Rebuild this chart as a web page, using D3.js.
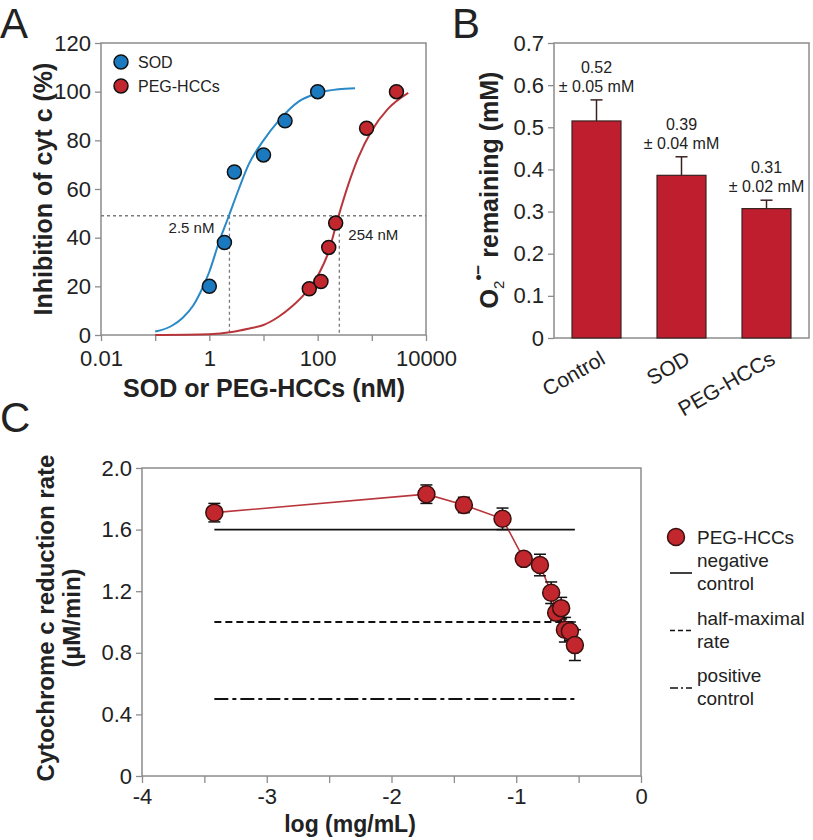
<!DOCTYPE html>
<html><head><meta charset="utf-8">
<script src="https://cdn.jsdelivr.net/npm/d3@7"></script>
<style>
body{margin:0;background:#fff}
svg{display:block}
text{font-family:"Liberation Sans",Arial,Helvetica,sans-serif;fill:#222}
</style>
</head><body>
<svg id="chart" width="813" height="840"></svg>
<script>
// ---------- Panel A data ----------
const sodConc  = [1, 1.9, 2.9, 10, 25, 100];
const sodInhib = [20, 38, 67, 74, 88, 100];
const pegConc  = [70, 115, 160, 215, 800, 2850];
const pegInhib = [19, 22, 36, 46, 85, 100];
const sodFitConc  = [0.1, 0.2, 0.32, 0.5, 0.7, 1, 1.5, 2.3, 3.5, 5.3, 10, 19, 45, 96, 240, 490];
const sodFitInhib = [1.4, 3.7, 7, 12, 18, 26, 38, 49, 60, 70, 80, 88, 96, 99.3, 101, 101.4];
const pegFitConc  = [0.1, 1, 2.6, 5.3, 10, 19, 33, 58, 104, 158, 241, 370, 564, 1000, 2000, 4700];
const pegFitInhib = [0, 0.3, 1.2, 2.6, 4.1, 7.5, 11.6, 17, 25, 34, 48.6, 62, 73, 84, 93, 99.5];
const halfLevel = 49;
const ic50Pos = [2.35, 251];
const ic50Labels = ["2.5 nM", "254 nM"];
const aXTicks = [0.01, 0.1, 1, 10, 100, 1000, 10000];
const aXTickLabels = ["0.01", "", "1", "", "100", "", "10000"];
const aYTicks = [0, 20, 40, 60, 80, 100, 120];
const aSeriesNames = ["SOD", "PEG-HCCs"];

// ---------- Panel B data ----------
const bCategories = ["Control", "SOD", "PEG-HCCs"];
const bValues = [0.515, 0.386, 0.307];
const bErrors = [0.05, 0.044, 0.02];
const bLabelTop = ["0.52", "0.39", "0.31"];
const bLabelBottom = ["± 0.05 mM", "± 0.04 mM", "± 0.02 mM"];
const bYTicks = [0, 0.1, 0.2, 0.3, 0.4, 0.5, 0.6, 0.7];

// ---------- Panel C data ----------
const cLogConc = [-3.42, -1.72, -1.42, -1.11, -0.94, -0.81, -0.72, -0.68, -0.64, -0.61, -0.57, -0.53];
const cRate    = [1.71, 1.83, 1.76, 1.67, 1.41, 1.37, 1.19, 1.06, 1.09, 0.95, 0.94, 0.85];
const cErr     = [0.06, 0.06, 0.05, 0.07, 0.02, 0.07, 0.07, 0.05, 0.07, 0.08, 0.06, 0.10];
const cRefValues = [1.6, 1.0, 0.5];
const cRefNames = [["negative", "control"], ["half-maximal", "rate"], ["positive", "control"]];
const cXTicks = [-4, -3.5, -3, -2.5, -2, -1.5, -1, -0.5, 0];
const cYTicks = [0, 0.4, 0.8, 1.2, 1.6, 2.0];

// ---------- styles ----------
const BLUE = "#1b79c0", BLUE_LINE = "#2a89c7";
const RED = "#c1272d", RED_LINE = "#b8353b";
const FRAME = "#8c8c8c";
const dashStyles = [null, "7,4", "14,4,4,4"];

const svg = d3.select("#chart");

function styleAxis(g){
  g.select(".domain").remove();
  g.selectAll(".tick line").attr("stroke", FRAME).attr("stroke-width", 1.3);
  g.selectAll(".tick text").attr("fill", "#222").style("font-family", '"Liberation Sans",Arial,sans-serif');
}

// ================= PANEL A =================
const xA = d3.scaleLog().domain([0.01, 10000]).range([101, 426]);
const yA = d3.scaleLinear().domain([0, 120]).range([335, 43]);
const gA = svg.append("g");

gA.append("g").attr("transform", "translate(0,335)")
  .call(d3.axisBottom(xA).tickValues(aXTicks).tickFormat(d=>aXTickLabels[aXTicks.indexOf(d)]).tickSize(6).tickPadding(9))
  .call(styleAxis).selectAll("text").style("font-size","22px");
gA.append("g").attr("transform", "translate(101,0)")
  .call(d3.axisLeft(yA).tickValues(aYTicks).tickSize(6).tickPadding(4))
  .call(styleAxis).selectAll("text").style("font-size","22px");
gA.append("rect").attr("x",101).attr("y",43).attr("width",325).attr("height",292)
  .attr("fill","none").attr("stroke",FRAME).attr("stroke-width",1.5);

// dashed guides
gA.append("line").attr("x1",xA(0.01)).attr("x2",xA(10000)).attr("y1",yA(halfLevel)).attr("y2",yA(halfLevel))
  .attr("stroke","#7a7a7a").attr("stroke-width",1.3).attr("stroke-dasharray","3,3");
ic50Pos.forEach(v=>{
  gA.append("line").attr("x1",xA(v)).attr("x2",xA(v)).attr("y1",yA(halfLevel)).attr("y2",yA(0))
    .attr("stroke","#7a7a7a").attr("stroke-width",1.3).attr("stroke-dasharray","3,3");
});
gA.append("text").attr("x",xA(ic50Pos[0])-15).attr("y",yA(halfLevel)+17).attr("text-anchor","end")
  .style("font-size","15px").text(ic50Labels[0]);
gA.append("text").attr("x",xA(ic50Pos[1])+9).attr("y",yA(halfLevel)+24).attr("text-anchor","start")
  .style("font-size","15px").text(ic50Labels[1]);

// fit curves
const lineA = d3.line().x(d=>xA(d[0])).y(d=>yA(d[1])).curve(d3.curveMonotoneX);
gA.append("path").datum(sodFitConc.map((c,i)=>[c,sodFitInhib[i]])).attr("d",lineA)
  .attr("fill","none").attr("stroke",BLUE_LINE).attr("stroke-width",2);
gA.append("path").datum(pegFitConc.map((c,i)=>[c,pegFitInhib[i]])).attr("d",lineA)
  .attr("fill","none").attr("stroke",RED_LINE).attr("stroke-width",2);

// points
gA.selectAll(".sod").data(sodConc.map((c,i)=>[c,sodInhib[i]])).join("circle")
  .attr("cx",d=>xA(d[0])).attr("cy",d=>yA(d[1])).attr("r",7)
  .attr("fill",BLUE).attr("stroke","#111").attr("stroke-width",1.5);
gA.selectAll(".peg").data(pegConc.map((c,i)=>[c,pegInhib[i]])).join("circle")
  .attr("cx",d=>xA(d[0])).attr("cy",d=>yA(d[1])).attr("r",7)
  .attr("fill",RED).attr("stroke","#111").attr("stroke-width",1.5);

// legend A
[BLUE, RED].forEach((col,i)=>{
  gA.append("circle").attr("cx",121).attr("cy",62+i*24).attr("r",7).attr("fill",col).attr("stroke","#111").attr("stroke-width",1.5);
  gA.append("text").attr("x",138).attr("y",68+i*24).style("font-size","16px").text(aSeriesNames[i]);
});

// titles A
gA.append("text").attr("transform","translate(52,189) rotate(-90)").attr("text-anchor","middle")
  .style("font-size","25px").style("font-weight","bold").text("Inhibition of cyt c (%)");
gA.append("text").attr("x",264).attr("y",397).attr("text-anchor","middle")
  .style("font-size","25px").style("font-weight","bold").text("SOD or PEG-HCCs (nM)");
svg.append("text").attr("x",0).attr("y",38).style("font-size","42px").text("A");

// ================= PANEL B =================
const xB = d3.scaleBand().domain(bCategories).range([554, 809]).paddingInner(0.424).paddingOuter(0.212);
const yB = d3.scaleLinear().domain([0, 0.7]).range([338, 43]);
const gB = svg.append("g");

gB.append("g").attr("transform","translate(554,0)")
  .call(d3.axisLeft(yB).tickValues(bYTicks).tickFormat(d=>d===0?"0":d.toFixed(1)).tickSize(6).tickPadding(4))
  .call(styleAxis).selectAll("text").style("font-size","22px");
gB.append("rect").attr("x",554).attr("y",43).attr("width",255).attr("height",295)
  .attr("fill","none").attr("stroke",FRAME).attr("stroke-width",1.5);

bCategories.forEach((c,i)=>{
  const x0 = xB(c), w = xB.bandwidth(), cx = x0 + w/2;
  gB.append("line").attr("x1",cx).attr("x2",cx).attr("y1",yB(bValues[i])).attr("y2",yB(bValues[i]+bErrors[i]))
    .attr("stroke","#3a2020").attr("stroke-width",1.5);
  gB.append("line").attr("x1",cx-6).attr("x2",cx+6).attr("y1",yB(bValues[i]+bErrors[i])).attr("y2",yB(bValues[i]+bErrors[i]))
    .attr("stroke","#3a2020").attr("stroke-width",1.5);
  gB.append("rect").attr("x",x0).attr("y",yB(bValues[i])).attr("width",w).attr("height",yB(0)-yB(bValues[i]))
    .attr("fill","#be1e2d").attr("stroke","#3a2020").attr("stroke-width",1.2);
  const top = yB(bValues[i]+bErrors[i]);
  gB.append("text").attr("x",cx).attr("y",top-27).attr("text-anchor","middle").style("font-size","16px").text(bLabelTop[i]);
  gB.append("text").attr("x",cx).attr("y",top-8).attr("text-anchor","middle").style("font-size","16px").text(bLabelBottom[i]);
  gB.append("text").attr("transform",`translate(${cx+10},363) rotate(-30)`).attr("text-anchor","end")
    .style("font-size","21px").text(c);
});

// B y title
const tB = gB.append("text").attr("transform","translate(498,190) rotate(-90)").attr("text-anchor","middle")
  .style("font-size","25px").style("font-weight","bold");
tB.append("tspan").text("O");
tB.append("tspan").attr("dy",6).style("font-size","15px").style("font-weight","normal").text("2");
tB.append("tspan").attr("dy",-20).style("font-size","17px").text("•−");
tB.append("tspan").attr("dy",14).text(" remaining (mM)");
svg.append("text").attr("x",452).attr("y",38).style("font-size","42px").text("B");

// ================= PANEL C =================
const xC = d3.scaleLinear().domain([-4, 0]).range([142, 641]);
const yC = d3.scaleLinear().domain([0, 2]).range([776, 468]);
const gC = svg.append("g");

gC.append("g").attr("transform","translate(0,776)")
  .call(d3.axisBottom(xC).tickValues(cXTicks).tickFormat(d=>Number.isInteger(d)?String(d):"").tickSize(7).tickPadding(5))
  .call(styleAxis).selectAll("text").style("font-size","22px");
gC.append("g").attr("transform","translate(142,0)")
  .call(d3.axisLeft(yC).tickValues(cYTicks).tickFormat(d=>d===0?"0":d.toFixed(1)).tickSize(6).tickPadding(4))
  .call(styleAxis).selectAll("text").style("font-size","22px");
gC.append("rect").attr("x",142).attr("y",468).attr("width",499).attr("height",308)
  .attr("fill","none").attr("stroke",FRAME).attr("stroke-width",1.5);

// reference lines
const xMin = d3.min(cLogConc), xMax = d3.max(cLogConc);
cRefValues.forEach((v,i)=>{
  const l = gC.append("line").attr("x1",xC(xMin)).attr("x2",xC(xMax)).attr("y1",yC(v)).attr("y2",yC(v))
    .attr("stroke","#111").attr("stroke-width",1.8);
  if(dashStyles[i]) l.attr("stroke-dasharray",dashStyles[i]);
});

// data line
const cPts = cLogConc.map((x,i)=>({x, y:cRate[i], e:cErr[i]})).sort((a,b)=>a.x-b.x);
gC.append("path").datum(cPts).attr("d",d3.line().x(d=>xC(d.x)).y(d=>yC(d.y)))
  .attr("fill","none").attr("stroke",RED_LINE).attr("stroke-width",1.6);
// error bars
cPts.forEach(d=>{
  gC.append("line").attr("x1",xC(d.x)).attr("x2",xC(d.x)).attr("y1",yC(d.y-d.e)).attr("y2",yC(d.y+d.e)).attr("stroke","#111").attr("stroke-width",1.5);
  [d.y-d.e, d.y+d.e].forEach(v=>gC.append("line").attr("x1",xC(d.x)-6).attr("x2",xC(d.x)+6).attr("y1",yC(v)).attr("y2",yC(v)).attr("stroke","#111").attr("stroke-width",1.5));
});
gC.selectAll(".cpt").data(cPts).join("circle").attr("cx",d=>xC(d.x)).attr("cy",d=>yC(d.y)).attr("r",8.5)
  .attr("fill",RED).attr("stroke","#3a1010").attr("stroke-width",1.5);

// legend C
gC.append("circle").attr("cx",676).attr("cy",537).attr("r",8.5).attr("fill",RED).attr("stroke","#3a1010").attr("stroke-width",1.5);
gC.append("text").attr("x",697).attr("y",544).style("font-size","19px").text("PEG-HCCs");
cRefNames.forEach((nm,i)=>{
  const base = 567 + i*57.5;
  gC.append("text").attr("x",697).attr("y",base).style("font-size","19px").text(nm[0]);
  gC.append("text").attr("x",697).attr("y",base+23).style("font-size","19px").text(nm[1]);
  const l = gC.append("line").attr("x1",670).attr("x2",692).attr("y1",base+6).attr("y2",base+6).attr("stroke","#111").attr("stroke-width",1.6);
  if(dashStyles[i]) l.attr("stroke-dasharray", i===1 ? "5,3" : "8,3,2,3");
});

// C titles
gC.append("text").attr("transform","translate(54,618) rotate(-90)").attr("text-anchor","middle")
  .style("font-size","24px").style("font-weight","bold").text("Cytochrome c reduction rate");
gC.append("text").attr("transform","translate(80,618) rotate(-90)").attr("text-anchor","middle")
  .style("font-size","24px").style("font-weight","bold").text("(µM/min)");
gC.append("text").attr("x",350).attr("y",832).attr("text-anchor","middle")
  .style("font-size","23px").style("font-weight","bold").text("log (mg/mL)");
svg.append("text").attr("x",0).attr("y",432).style("font-size","42px").text("C");
</script>
</body></html>
